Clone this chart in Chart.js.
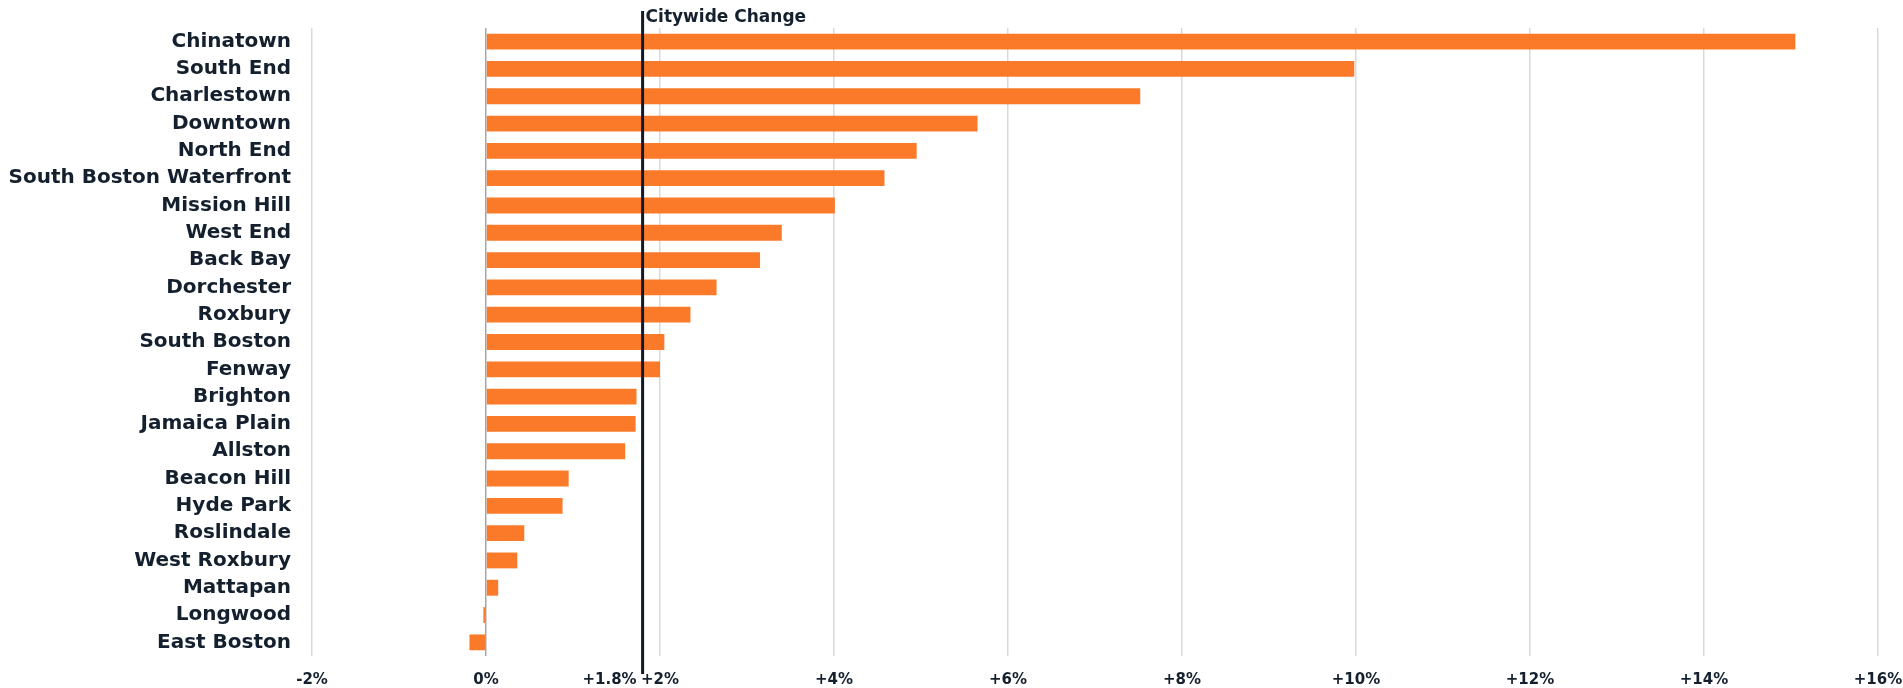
<!DOCTYPE html>
<html>
<head>
<meta charset="utf-8">
<script src="https://cdn.jsdelivr.net/npm/chart.js@4"></script>
<style>
  body { margin: 0; background: #fff; }
  #wrap { width: 1903px; height: 688px; position: relative; }
</style>
</head>
<body>
<div id="wrap"><canvas id="changeChart"></canvas></div>
<script>
const neighborhoods = ['Chinatown', 'South End', 'Charlestown', 'Downtown', 'North End',
    'South Boston Waterfront', 'Mission Hill', 'West End', 'Back Bay', 'Dorchester',
    'Roxbury', 'South Boston', 'Fenway', 'Brighton', 'Jamaica Plain', 'Allston',
    'Beacon Hill', 'Hyde Park', 'Roslindale', 'West Roxbury', 'Mattapan', 'Longwood',
    'East Boston'];
const changePct = [15.05, 9.98, 7.52, 5.65, 4.95, 4.58, 4.01, 3.40, 3.15, 2.65, 2.35, 2.05,
    2.00, 1.73, 1.72, 1.60, 0.95, 0.88, 0.44, 0.36, 0.14, -0.03, -0.19];
const citywideChange = 1.8;
const citywideLabel = 'Citywide Change';
const xMin = -2;
const xMax = 16;

const textColor = '#14202e';
const fontFamily = "'DejaVu Sans', sans-serif";

function fmtPct(v) {
    return (v > 0 ? '+' : '') + v + '%';
}

// vertical marker for the citywide average
const citywidePlugin = {
    id: 'citywide',
    afterDatasetsDraw(chart) {
        const ctx = chart.ctx;
        const area = chart.chartArea;
        const px = chart.scales.x.getPixelForValue(citywideChange);
        ctx.save();
        ctx.strokeStyle = '#0f1b29';
        ctx.lineWidth = 3;
        ctx.beginPath();
        ctx.moveTo(px, area.top - 17);
        ctx.lineTo(px, area.bottom + 18);
        ctx.stroke();

        ctx.fillStyle = textColor;
        ctx.font = 'bold 17px ' + fontFamily;
        ctx.textBaseline = 'middle';
        ctx.textAlign = 'left';
        ctx.fillText(citywideLabel, px + 3, area.top - 10);

        ctx.font = 'bold 15px ' + fontFamily;
        ctx.textAlign = 'right';
        ctx.fillText(fmtPct(citywideChange), px - 6, area.bottom + 24);
        ctx.restore();
    }
};

const ctx = document.getElementById('changeChart').getContext('2d');
const changeChart = new Chart(ctx, {
    type: 'bar',
    data: {
        labels: neighborhoods,
        datasets: [{
            data: changePct,
            backgroundColor: '#fa7a2a',
            borderWidth: 0,
            barPercentage: 0.58,
            categoryPercentage: 1
        }]
    },
    options: {
        indexAxis: 'y',
        responsive: true,
        maintainAspectRatio: false,
        animation: false,
        layout: { padding: { top: 28, right: 25, bottom: 0, left: 0 } },
        plugins: {
            legend: { display: false },
            tooltip: { enabled: false }
        },
        scales: {
            x: {
                min: xMin,
                max: xMax,
                border: { display: false },
                grid: {
                    drawTicks: false,
                    lineWidth: 1.5,
                    color: (c) => c.tick && c.tick.value === 0 ? '#a3a7ad' : '#d9d9d9'
                },
                afterFit: (s) => {
                    s.height = 32;
                    s.paddingLeft = 0;
                    s.paddingRight = 0;
                },
                ticks: {
                    stepSize: 2,
                    padding: 15,
                    color: textColor,
                    font: { family: fontFamily, size: 15, weight: 'bold' },
                    callback: (v) => fmtPct(v)
                }
            },
            y: {
                border: { display: false },
                grid: { display: false, drawTicks: false },
                afterFit: (s) => {
                    s.width = 312;
                    s.paddingTop = 0;
                    s.paddingBottom = 0;
                },
                ticks: {
                    padding: 21,
                    color: textColor,
                    font: { family: fontFamily, size: 20, weight: 'bold' }
                }
            }
        }
    },
    plugins: [citywidePlugin]
});
</script>
</body>
</html>
